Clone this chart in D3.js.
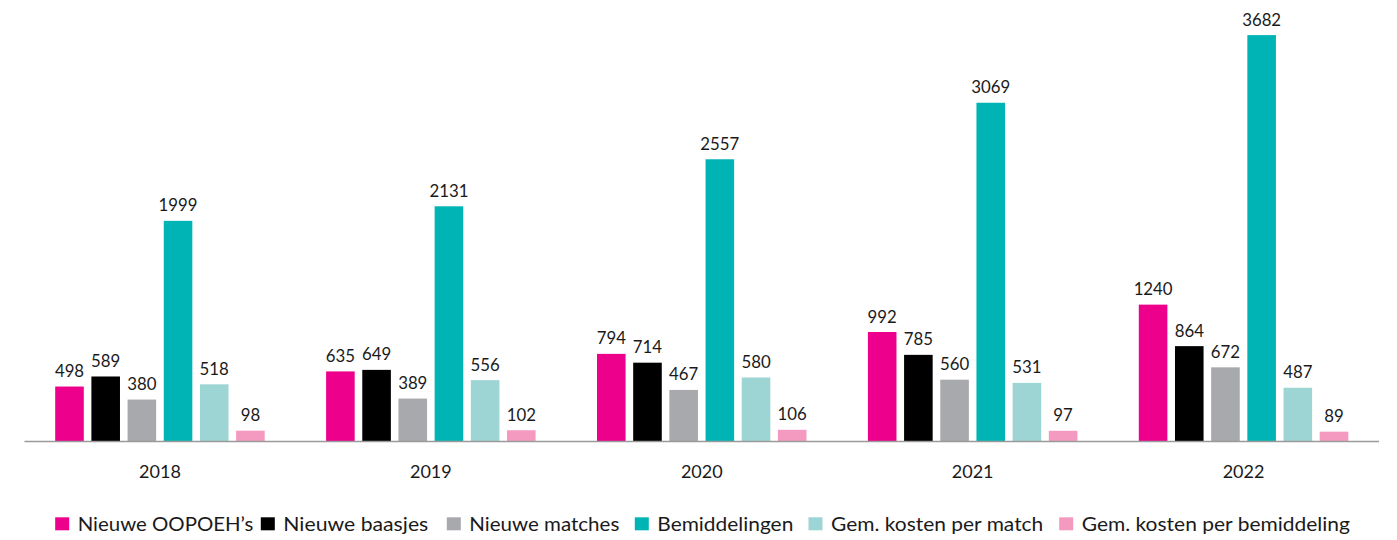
<!DOCTYPE html>
<html><head><meta charset="utf-8">
<script src="https://cdn.jsdelivr.net/npm/d3@7"></script>
<style>body{margin:0;background:#fff}svg{display:block}text{font-family:"Lato","Noto Sans",sans-serif;fill:#1a1a1a}</style>
</head><body>
<script>
const years = ["2018","2019","2020","2021","2022"];
const seriesNames = ["Nieuwe OOPOEH’s","Nieuwe baasjes","Nieuwe matches","Bemiddelingen","Gem. kosten per match","Gem. kosten per bemiddeling"];
const seriesColors = ["#EC008C","#000000","#A7A9AC","#00B3B5","#9DD4D4","#F49AC1"];
const nieuweOopoehs = [498,635,794,992,1240];
const nieuweBaasjes = [589,649,714,785,864];
const nieuweMatches = [380,389,467,560,672];
const bemiddelingen = [1999,2131,2557,3069,3682];
const kostenPerMatch = [518,556,580,531,487];
const kostenPerBemiddeling = [98,102,106,97,89];
const seriesValues = [nieuweOopoehs,nieuweBaasjes,nieuweMatches,bemiddelingen,kostenPerMatch,kostenPerBemiddeling];

const W=1397,H=540;
const svg=d3.select("body").append("svg").attr("width",W).attr("height",H);
const x0=d3.scaleBand().domain(years).range([24.5,1379]).padding(0);
const groupW=209.5;
const x1=d3.scaleBand().domain(d3.range(6)).range([0,groupW]).paddingInner(0.21).paddingOuter(0);
const y=d3.scaleLinear().domain([0,4000]).range([441.5,0]);

const g=svg.selectAll("g.year").data(years).join("g")
  .attr("transform",d=>`translate(${x0(d)+(x0.bandwidth()-groupW)/2},0)`);
g.each(function(yr,yi){
  const sel=d3.select(this);
  seriesValues.forEach((vals,si)=>{
    const v=vals[yi];
    sel.append("rect").attr("x",x1(si)).attr("width",x1.bandwidth())
      .attr("y",y(v)).attr("height",y(0)-y(v)).attr("fill",seriesColors[si]);
    sel.append("text").attr("x",x1(si)+x1.bandwidth()/2).attr("y",y(v)-9.5)
      .attr("text-anchor","middle").attr("font-size",16.8).text(v);
  });
});

const axis=svg.append("g").attr("transform",`translate(0,${y(0)})`)
  .call(d3.axisBottom(x0).tickSize(0));
axis.select(".domain").attr("stroke","#9a9a9a").attr("stroke-width",1.5).attr("d","M24.5,0H1379");
axis.selectAll("text").attr("y",36).attr("dy",0).attr("font-size",18).attr("fill","#1a1a1a").style("font-family","Lato, sans-serif");

const legendTextX=[77.7,283.3,469.3,657.3,831,1081.7];
const legendTextW=[175.6,145,150,136,212.3,268.3];
const lg=svg.append("g");
seriesNames.forEach((n,i)=>{
  lg.append("rect").attr("x",legendTextX[i]-22.5).attr("y",517.3).attr("width",14).attr("height",13).attr("fill",seriesColors[i]);
  lg.append("text").attr("x",legendTextX[i]).attr("y",531.3).attr("font-size",19)
    .attr("textLength",legendTextW[i]).attr("lengthAdjust","spacingAndGlyphs").text(n);
});
</script>
</body></html>
